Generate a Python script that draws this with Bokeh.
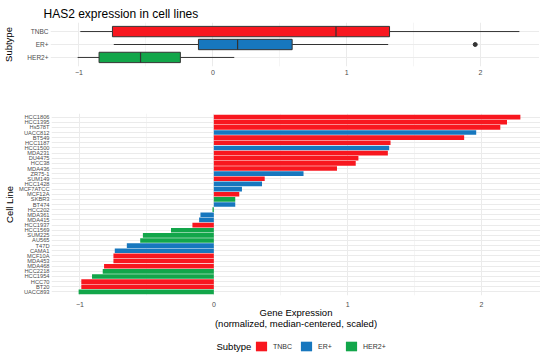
import numpy as np
from bokeh.plotting import figure
from bokeh.layouts import column, Spacer
from bokeh.models import ColumnDataSource, FactorRange, FixedTicker, Legend, LegendItem, Label, Range1d
from bokeh.transform import factor_cmap, dodge
from bokeh.embed import file_html
from bokeh.resources import INLINE

# ---------------- data (top to bottom as in the chart) ----------------
cell_lines = ["HCC1806", "HCC1395", "Hs578T", "UACC812", "BT549", "HCC1187", "HCC1500",
              "MDA231", "DU4475", "HCC38", "MDA436", "ZR75-1", "SUM149", "HCC1428",
              "MCF7ATCC", "MCF12A", "SKBR3", "BT474", "HCC202", "MDA361", "MDA415",
              "HCC1937", "HCC1569", "SUM225", "AU565", "T47D", "CAMA1", "MCF10A",
              "MDA453", "MDA468", "HCC2218", "HCC1954", "HCC70", "BT20", "UACC893"]
expression = [2.29, 2.19, 2.14, 1.96, 1.87, 1.32, 1.31,
              1.30, 1.08, 1.06, 0.92, 0.67, 0.38, 0.36,
              0.21, 0.19, 0.16, 0.16, -0.01, -0.10, -0.11,
              -0.16, -0.32, -0.53, -0.55, -0.65, -0.74, -0.75,
              -0.75, -0.82, -0.83, -0.91, -0.99, -0.99, -1.01]
subtype = ["TNBC", "TNBC", "TNBC", "ER+", "TNBC", "TNBC", "ER+",
           "TNBC", "TNBC", "TNBC", "TNBC", "ER+", "TNBC", "ER+",
           "ER+", "TNBC", "HER2+", "ER+", "HER2+", "ER+", "ER+",
           "TNBC", "HER2+", "HER2+", "HER2+", "ER+", "ER+", "TNBC",
           "TNBC", "TNBC", "HER2+", "HER2+", "TNBC", "TNBC", "HER2+"]
subtypes = ["TNBC", "ER+", "HER2+"]
x_ticks = [-1, 0, 1, 2]
x_minor = [-0.5, 0.5, 1.5]

palette = ["#F8171F", "#1777BE", "#12A64A"]
FONT = "Liberation Sans"
W = 534
FW = 489
X0, X1 = -1.2127, 2.4403
GRID = "#ebebeb"
TICK_TXT = "#4d4d4d"


def style_axes(p):
    for ax in (p.xaxis, p.yaxis):
        ax.axis_line_color = None
        ax.major_tick_line_color = None
        ax.minor_tick_line_color = None
        ax.major_tick_out = 0
        ax.major_tick_in = 0
        ax.minor_tick_out = 0
        ax.minor_tick_in = 0
        ax.major_label_text_color = TICK_TXT
        ax.major_label_text_font = FONT
        ax.axis_label_text_font = FONT
        ax.axis_label_text_font_style = "normal"
        ax.axis_label_text_color = "#000000"
        ax.axis_label_text_font_size = "9.5px"
    p.xaxis.ticker = FixedTicker(ticks=x_ticks, minor_ticks=x_minor)
    p.xaxis.major_label_overrides = {-1: "\u22121"}
    p.xaxis.major_label_text_font_size = "7px"
    p.xgrid.grid_line_color = GRID
    p.xgrid.minor_grid_line_color = GRID
    p.xgrid.minor_grid_line_width = 0.5
    p.ygrid.grid_line_color = GRID
    p.outline_line_color = None


# ---------------- top panel: box plot ----------------
vals = np.array(expression)
sts = np.array(subtype)
stats = dict(sub=[], q1=[], med=[], q3=[], lo=[], hi=[])
out_x, out_y = [], []
for s in subtypes:
    v = vals[sts == s]
    q1, med, q3 = np.percentile(v, [25, 50, 75])
    iqr = q3 - q1
    inside = v[(v >= q1 - 1.5 * iqr) & (v <= q3 + 1.5 * iqr)]
    stats["sub"].append(s)
    stats["q1"].append(q1)
    stats["med"].append(med)
    stats["q3"].append(q3)
    stats["lo"].append(inside.min())
    stats["hi"].append(inside.max())
    for o in v[(v < q1 - 1.5 * iqr) | (v > q3 + 1.5 * iqr)]:
        out_x.append(o)
        out_y.append(s)
box_src = ColumnDataSource(stats)

p1 = figure(frame_width=FW, frame_height=44, output_backend="svg", toolbar_location=None,
            x_range=Range1d(X0, X1),
            y_range=FactorRange(factors=subtypes[::-1], range_padding=0.2,
                                range_padding_units="absolute"),
            min_border_left=45, min_border_right=0, min_border_top=14, min_border_bottom=32,
            title="HAS2 expression in cell lines", frame_align=False)
p1.title.text_font = FONT
p1.title.text_font_size = "12px"
p1.title.text_font_style = "normal"
p1.title.text_color = "#000000"
p1.title.offset = -7
p1.title.standoff = 3
style_axes(p1)
p1.yaxis.axis_label = "Subtype"
p1.yaxis.major_label_text_font_size = "6.5px"
p1.yaxis.major_label_standoff = 2
p1.yaxis.axis_label_standoff = 10
p1.xaxis.major_label_standoff = 3

p1.segment(x0="lo", x1="q1", y0="sub", y1="sub", source=box_src, line_color="#333333", line_width=1)
p1.segment(x0="q3", x1="hi", y0="sub", y1="sub", source=box_src, line_color="#333333", line_width=1)
p1.hbar(y="sub", left="q1", right="q3", height=0.8, source=box_src,
        fill_color=factor_cmap("sub", palette, subtypes), line_color="#333333", line_width=1)
p1.segment(x0="med", x1="med",
           y0=dodge("sub", -0.4, range=p1.y_range), y1=dodge("sub", 0.4, range=p1.y_range),
           source=box_src, line_color="#333333", line_width=1.2)
p1.scatter(x=out_x, y=out_y, size=4, color="#333333")

# ---------------- bottom panel: bars ----------------
bar_src = ColumnDataSource(dict(cell=cell_lines, val=expression, sub=subtype))
p2 = figure(frame_width=FW, frame_height=182, output_backend="svg", toolbar_location=None,
            x_range=p1.x_range,
            y_range=FactorRange(factors=cell_lines[::-1], range_padding=0.2,
                                range_padding_units="absolute"),
            min_border_left=45, min_border_right=0, min_border_top=15, min_border_bottom=37,
            frame_align=False)
style_axes(p2)
p2.yaxis.axis_label = "Cell Line"
p2.yaxis.major_label_text_font_size = "5.7px"
p2.yaxis.major_label_standoff = 2
p2.yaxis.axis_label_standoff = 1
p2.xaxis.major_label_standoff = 6
p2.xaxis.axis_label = "Gene Expression\n(normalized, median-centered, scaled)"
p2.xaxis.axis_label_standoff = -3
p2.xaxis.axis_label_text_line_height = 1.05
p2.hbar(y="cell", left=0, right="val", height=0.9, source=bar_src,
        fill_color=factor_cmap("sub", palette, subtypes), line_color=None)

# ---------------- legend strip ----------------
p3 = figure(frame_width=W, frame_height=20, output_backend="svg", toolbar_location=None,
            x_range=Range1d(0, 1), y_range=Range1d(0, 1),
            x_axis_type=None, y_axis_type=None,
            min_border_left=0, min_border_right=0, min_border_top=0, min_border_bottom=0,
            frame_align=False)
p3.grid.visible = False
p3.outline_line_color = None
key_src = ColumnDataSource(dict(sub=subtypes, x=[0.5] * 3, y=[0.5] * 3))
key_r = p3.rect(x="x", y="y", width=0, height=0, source=key_src,
                fill_color=factor_cmap("sub", palette, subtypes), line_color=None)
items = [LegendItem(label=s, renderers=[key_r], index=i) for i, s in enumerate(subtypes)]
leg = Legend(items=items, orientation="horizontal", location=(254, 0),
             glyph_width=14, glyph_height=12, label_standoff=5, spacing=6,
             padding=0, margin=0, border_line_color=None, background_fill_alpha=0,
             label_text_font=FONT, label_text_font_size="7px", label_text_color="#333333",
             label_height=12)
p3.add_layout(leg, "center")
p3.add_layout(Label(x=216, y=6, x_units="screen", y_units="screen", text="Subtype",
                    text_font=FONT, text_font_size="9.5px", text_baseline="middle",
                    text_color="#000000"))

layout = column(Spacer(height=3), p1, p2, p3, spacing=0)
open("out.html", "w").write(file_html(layout, INLINE))
